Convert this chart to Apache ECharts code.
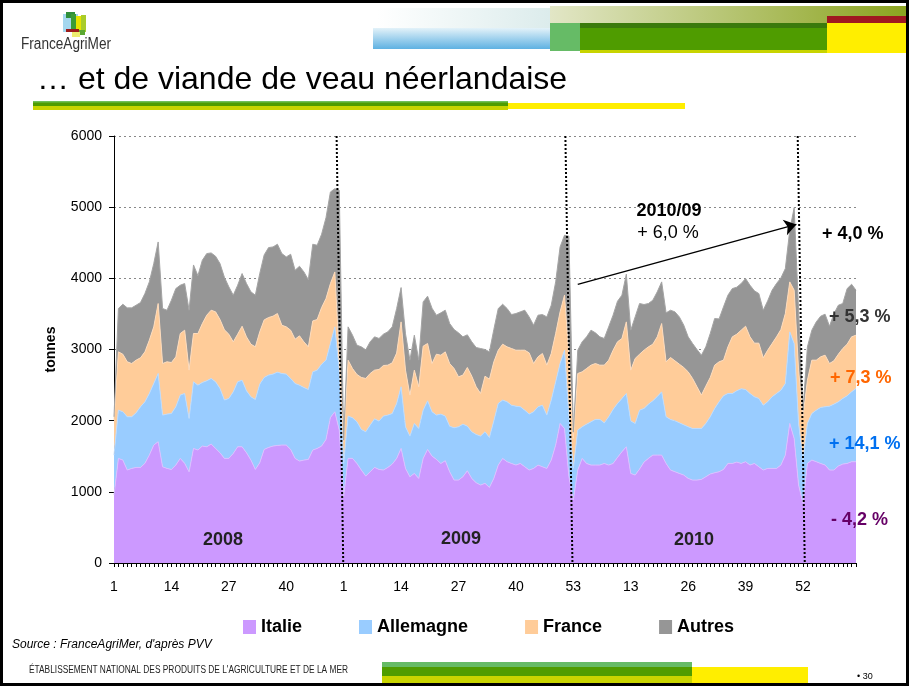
<!DOCTYPE html>
<html><head><meta charset="utf-8">
<script src="https://cdn.jsdelivr.net/npm/echarts/dist/echarts.min.js"></script>
<style>html,body{margin:0;padding:0;background:#fff}#main{width:909px;height:686px}</style>
</head><body><div id="main"></div>
<script>
// ---- data (weekly, 2008 w1 .. 2011 w12) ----
const tickLabels = ['1','14','27','40','1','14','27','40','53','13','26','39','52'];
const seriesNames = ['Italie','Allemagne','France','Autres'];
const italie = [
955,1470,1446,1306,1329,1343,1343,1400,1516,1657,
1704,1352,1329,1315,1376,1470,1400,1282,1610,1587,
1643,1633,1671,1610,1549,1470,1470,1540,1633,1633,
1549,1446,1315,1409,1596,1624,1643,1652,1657,1657,
1596,1470,1432,1446,1456,1587,1610,1643,1736,2045,
2125,1867,931,1470,1470,1399,1306,1221,1282,1343,
1315,1306,1343,1390,1470,1610,1329,1211,1259,1189,
1470,1596,1502,1456,1399,1437,1282,1165,1165,1212,
1296,1189,1128,1095,1119,1062,1189,1376,1470,1423,
1399,1376,1399,1352,1306,1329,1376,1352,1329,1446,
1657,1961,1890,1212,885,1306,1470,1399,1376,1376,
1376,1399,1376,1399,1484,1563,1633,1259,1235,1320,
1418,1470,1516,1516,1516,1399,1306,1282,1259,1235,
1189,1165,1165,1175,1212,1250,1268,1282,1315,1399,
1399,1418,1399,1423,1376,1399,1352,1306,1329,1329,
1329,1376,1516,1961,1750,1095,838,1399,1446,1423,
1399,1376,1306,1306,1362,1390,1399,1423,1423];
const allemagne = [
561,678,679,749,726,767,852,865,866,865,
959,726,763,786,819,889,982,749,936,912,
894,927,922,936,903,820,842,865,913,936,
871,889,983,1104,1011,1016,1011,1030,1006,997,
997,1052,1067,1020,982,1099,1100,1151,1114,1039,
1193,843,468,594,570,585,571,623,656,683,
679,758,735,711,772,866,585,572,702,702,
678,683,623,622,693,627,641,735,749,739,
627,655,678,688,725,702,809,866,819,842,
819,828,796,796,786,796,819,866,749,843,
889,842,1100,842,445,561,444,552,608,641,
641,571,678,758,758,749,749,737,726,828,
754,762,763,824,889,655,711,716,711,707,
725,726,726,716,749,804,904,983,1035,983,
983,1002,1049,1015,1006,936,960,912,936,1006,
1053,1053,1006,1287,1334,866,608,562,655,725,
787,819,898,926,903,922,950,982,1029];
const france = [
492,819,809,772,748,740,688,702,749,796,
983,725,735,716,702,865,889,679,679,725,
827,922,959,983,969,986,903,702,669,758,
757,740,739,735,809,809,814,823,678,664,
678,623,693,641,599,716,711,795,866,842,
772,187,304,786,693,665,730,749,725,684,
725,711,702,712,708,912,796,576,749,585,
899,805,678,856,828,903,880,833,702,689,
824,782,670,599,781,819,829,748,786,772,
796,786,795,842,861,678,702,726,702,655,
678,726,773,843,420,796,772,782,796,786,
763,810,796,833,866,842,1006,714,913,786,
818,805,796,838,960,773,871,843,824,805,
772,702,585,468,524,553,608,562,500,655,
796,795,823,889,796,754,777,665,725,749,
796,852,983,702,749,749,608,608,749,702,
711,725,599,609,669,702,726,773,749];
const autres = [
47,609,702,758,782,772,777,819,819,889,
865,773,725,876,959,679,656,842,963,814,
890,866,805,781,786,739,665,656,688,740,
750,735,726,819,913,983,973,974,1007,983,
1067,969,978,983,944,1077,1044,1030,1137,1287,
1170,2339,24,468,468,412,430,402,445,468,
436,440,468,505,626,482,510,491,491,374,
622,665,777,548,595,585,562,548,618,538,
459,482,552,632,375,384,454,586,561,539,
477,515,539,562,505,539,585,547,678,678,
726,912,843,1695,90,327,422,445,492,431,
398,375,468,492,570,609,670,562,584,712,
642,609,618,632,585,688,664,688,664,595,
492,491,523,561,552,618,655,603,749,726,
678,660,656,670,725,735,697,669,693,749,
749,725,632,725,1160,842,94,468,422,538,
571,576,524,660,688,632,781,739,632];
const yearTexts = ['2008','2009','2010'];
const changeTexts = ['+ 4,0 %','+ 5,3 %','+ 7,3 %','+ 14,1 %','- 4,2 %'];
const arrowTexts = ['2010/09','+ 6,0 %'];

// ---- styling ----
const FONT = '"Liberation Sans", Arial, sans-serif';
const colors = ['#CC99FF','#99CCFF','#FFCC99','#969696'];
const edgeColors = ['#dcbfff','#bcdcff','#ffdcbc','#a4a4a4'];
const values = [italie, allemagne, france, autres];
const categories = italie.map((_, i) => String(i));

const mctx = document.createElement('canvas').getContext('2d');
function fitScale(text, font, w){ mctx.font = font; return w / mctx.measureText(text).width; }

const chart = echarts.init(document.getElementById('main'), null, {renderer:'canvas'});

const series = values.map((arr, k) => ({
  name: seriesNames[k], type:'line', stack:'total', symbol:'none', showSymbol:false,
  silent:true, z: 2, xAxisIndex:0,
  data: arr,
  itemStyle:{color:colors[k]},
  lineStyle:{width:1, color:edgeColors[k]},
  areaStyle:{color:colors[k], opacity:1},
  emphasis:{disabled:true}
}));
series.push({
  name:'sep', type:'line', data:[], silent:true, z:5, xAxisIndex:1,
  markLine:{ silent:true, symbol:['none','none'], label:{show:false},
    lineStyle:{color:'#000', type:[2,2], width:2},
    emphasis:{disabled:true},
    data:[
      [{coord:[50.4,6000]},{coord:[51.9,0]}],
      [{coord:[102.2,6000]},{coord:[103.8,0]}],
      [{coord:[154.8,6000]},{coord:[156.4,0]}]
    ]}
});
series.push({
  name:'arrow', type:'line', data:[], silent:true, z:6, xAxisIndex:1,
  markLine:{ silent:true, symbol:['none','arrow'], symbolSize:12, label:{show:false},
    lineStyle:{color:'#000', type:'solid', width:1.4},
    itemStyle:{color:'#000'},
    emphasis:{disabled:true},
    data:[[{coord:[105.0,3915]},{coord:[154.5,4758]}]]}
});

function txt(text, x, y, size, opts){
  opts = opts || {};
  return {type:'text', x:x, y:y, z:50, silent:true,
    scaleX: opts.scaleX || 1,
    style:{text:text, fontSize:size, fontFamily: opts.family || FONT,
      fontWeight: opts.weight || 'normal', fontStyle: opts.style || 'normal',
      fill: opts.color || '#000', align: opts.align || 'left', verticalAlign:'middle'}};
}
function rect(x,y,w,h,fill,z){ return {type:'rect', silent:true, z: z||1, shape:{x:x,y:y,width:w,height:h}, style:{fill:fill}}; }
const LG = echarts.graphic.LinearGradient;

const footerText = "ÉTABLISSEMENT NATIONAL DES PRODUITS DE L'AGRICULTURE ET DE LA MER";
const footerFont = '10px ' + FONT;
const logoFont = '16px ' + FONT;

const graphic = [
  rect(377,8,173,20,new LG(0,0,1,0,[{offset:0,color:'#ffffff'},{offset:1,color:'#dcecec'}])),
  rect(373,28,177,21,new LG(0,0,0,1,[{offset:0,color:'#e3f2f9'},{offset:1,color:'#5eb1e2'}])),
  rect(550,6,359,17,new LG(0,0,1,0,[{offset:0,color:'#e2e6c6'},{offset:1,color:'#8aa31e'}])),
  rect(550,23,30,28,'#66bb66'),
  rect(580,23,247,27,'#4f9c00'),
  rect(580,23,247,5,'#3b7a0c'),
  rect(580,50,247,3,'#c8d400'),
  rect(827,16,82,7,'#a01820'),
  rect(827,23,82,30,'#ffee00'),
  rect(63,14,15,18,'#a5d7ee'),
  rect(66,12,9,6,'#2f8f3a'),
  rect(71,14,5,18,'#3c9c34'),
  rect(76,16,9,15,'#e8e400'),
  rect(81,15,5,17,'#a9cc2a'),
  rect(66,29,13,3,'#9b1b1b'),
  rect(79,30,6,5,'#5aa832'),
  rect(72,32,8,5,'#eeee70'),
  txt('FranceAgriMer', 21, 45, 16, {color:'#333', scaleX: fitScale('FranceAgriMer', logoFont, 90)}),
  txt('… et de viande de veau néerlandaise', 37, 80, 32, {}),
  rect(33,102,475,4,'#4f9c00'),
  rect(33,101,475,1.5,'#6fbf5a'),
  rect(33,106,475,4,'#c8d400'),
  rect(508,103,177,6,'#ffee00'),
  txt(yearTexts[0], 223, 540, 18, {weight:'bold', color:'#222', align:'center'}),
  txt(yearTexts[1], 461, 539, 18, {weight:'bold', color:'#222', align:'center'}),
  txt(yearTexts[2], 694, 540, 18, {weight:'bold', color:'#222', align:'center'}),
  txt(arrowTexts[0], 669, 211, 18, {weight:'bold', align:'center'}),
  txt(arrowTexts[1], 668, 233, 18, {align:'center'}),
  txt(changeTexts[0], 822, 234, 18, {weight:'bold', color:'#000'}),
  txt(changeTexts[1], 829, 317, 18, {weight:'bold', color:'#333333'}),
  txt(changeTexts[2], 830, 378, 18, {weight:'bold', color:'#ff6600'}),
  txt(changeTexts[3], 829, 444, 18, {weight:'bold', color:'#0070f0'}),
  txt(changeTexts[4], 831, 520, 18, {weight:'bold', color:'#660066'}),
  txt("Source : FranceAgriMer, d'après PVV", 12, 645, 12, {style:'italic'}),
  txt(footerText, 29, 670, 10, {color:'#222', scaleX: fitScale(footerText, footerFont, 319)}),
  rect(382,662,310,5,'#66bb66'),
  rect(382,667,310,9,'#4f9c00'),
  rect(382,676,310,10,'#c8d400'),
  rect(692,667,116,19,'#ffee00'),
  txt('• 30', 857, 677, 9, {}),
  {type:'rect', silent:true, z:100, shape:{x:1.5,y:1.5,width:906,height:683}, style:{fill:'none', stroke:'#000', lineWidth:3}}
];

const option = {
  animation:false,
  backgroundColor:'#ffffff',
  grid:{left:114, right:53, top:136, bottom:123, containLabel:false, outerBoundsMode:'none'},
  xAxis:[{type:'category', data:categories, boundaryGap:false,
    axisLine:{show:true, onZero:false, lineStyle:{color:'#000', width:1}},
    axisTick:{show:true, interval:0, length:4, lineStyle:{color:'#000', width:1}},
    axisLabel:{color:'#000', fontSize:14, fontFamily:FONT, margin:17, interval:12,
      formatter:function(v, i){ return (i%13===0 && i/13 < tickLabels.length) ? tickLabels[i/13] : ''; }},
    splitLine:{show:false}},
    {type:'value', min:0, max:168, show:false}],
  yAxis:{type:'value', min:0, max:6000, interval:1000,
    name:'tonnes', nameLocation:'middle', nameGap:56, nameRotate:90,
    nameTextStyle:{fontWeight:'bold', fontSize:14, color:'#000', fontFamily:FONT},
    axisLine:{show:true, lineStyle:{color:'#000', width:1}},
    axisTick:{show:true, length:5, lineStyle:{color:'#000'}},
    axisLabel:{color:'#000', fontSize:14, fontFamily:FONT, margin:12, formatter:function(v){ return String(v); }},
    splitLine:{show:true, lineStyle:{color:'#888', type:[2,3], width:1}}},
  legend:{data:seriesNames, left:243, top:618, icon:'rect', itemWidth:13, itemHeight:14, itemGap:57, padding:0,
    selectedMode:false,
    textStyle:{fontSize:18, fontWeight:'bold', color:'#000', fontFamily:FONT}},
  series:series,
  graphic:graphic
};
chart.setOption(option);
</script></body></html>
